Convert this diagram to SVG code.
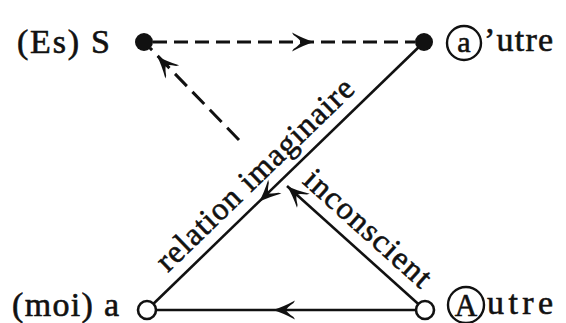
<svg xmlns="http://www.w3.org/2000/svg" xmlns:xlink="http://www.w3.org/1999/xlink" width="566" height="323" viewBox="0 0 566 323">
<style>
.t{font-family:"Liberation Serif","Times New Roman",serif;font-size:34px;fill:#111;stroke:#111;stroke-width:0.6}
.r{font-size:32px}
.ln{stroke:#111;stroke-width:2.6;fill:none;stroke-linecap:butt}
.ds{stroke:#111;stroke-width:3;fill:none;stroke-dasharray:14 7}
.ds2{stroke:#111;stroke-width:3;fill:none;stroke-dasharray:17 8}
.ring{stroke:#111;stroke-width:2.4;fill:none}
.open{stroke:#111;stroke-width:2.6;fill:#fff}
.dot{fill:#111}
.ah{fill:#111}
</style>
<defs>
<path id="ah" class="ah" d="M0,0 Q-10,-3 -22,-9.5 L-20.5,-7 Q-14,-2.5 -13,0 Q-14,2.5 -20.5,7 L-22,9.5 Q-10,3 0,0 Z"/>
</defs>
<rect width="566" height="323" fill="#fff"/>
<g id="connectors">
<line class="ds" x1="153" y1="42" x2="415" y2="42"/>
<use xlink:href="#ah" href="#ah" transform="translate(314,42)"/>
<line class="ds2" x1="239" y1="140" x2="150" y2="48"/>
<use xlink:href="#ah" href="#ah" transform="translate(157,56) rotate(-133.8)"/>
<line class="ln" x1="424" y1="42" x2="147" y2="310"/>
<use xlink:href="#ah" href="#ah" transform="translate(259,202) rotate(135.9)"/>
<line class="ln" x1="425" y1="310" x2="287" y2="186"/>
<use xlink:href="#ah" href="#ah" transform="translate(287,186) rotate(-138)"/>
<line class="ln" x1="425" y1="310" x2="147" y2="310"/>
<use xlink:href="#ah" href="#ah" transform="translate(273,310) rotate(180)"/>
<text class="t r" x="0" y="0" text-anchor="middle" textLength="262" lengthAdjust="spacing" transform="translate(262,182) rotate(-44.05)">relation imaginaire</text>
<text class="t r" x="0" y="0" text-anchor="middle" textLength="160" lengthAdjust="spacing" transform="translate(361,236) rotate(41.9)">inconscient</text>
</g>
<g id="node-S">
<circle class="dot" cx="144" cy="42" r="9"/>
<text class="t" x="17" y="53" textLength="93" lengthAdjust="spacing">(Es) S</text>
</g>
<g id="node-autre">
<circle class="dot" cx="424" cy="42" r="9"/>
<circle class="ring" cx="464" cy="43" r="17"/>
<text class="t" x="464" y="52" text-anchor="middle" style="font-size:30px">a</text>
<text class="t" x="484" y="51" textLength="69" lengthAdjust="spacing">’utre</text>
</g>
<g id="node-moi">
<circle class="open" cx="147" cy="310" r="9"/>
<text class="t" x="12" y="316" textLength="107" lengthAdjust="spacing">(moi) a</text>
</g>
<g id="node-Autre">
<circle class="open" cx="425" cy="310" r="9"/>
<circle class="ring" cx="466" cy="305" r="18"/>
<text class="t" x="466" y="316" text-anchor="middle" style="font-size:31px">A</text>
<text class="t" x="487" y="314" textLength="66" lengthAdjust="spacing">utre</text>
</g>
</svg>
